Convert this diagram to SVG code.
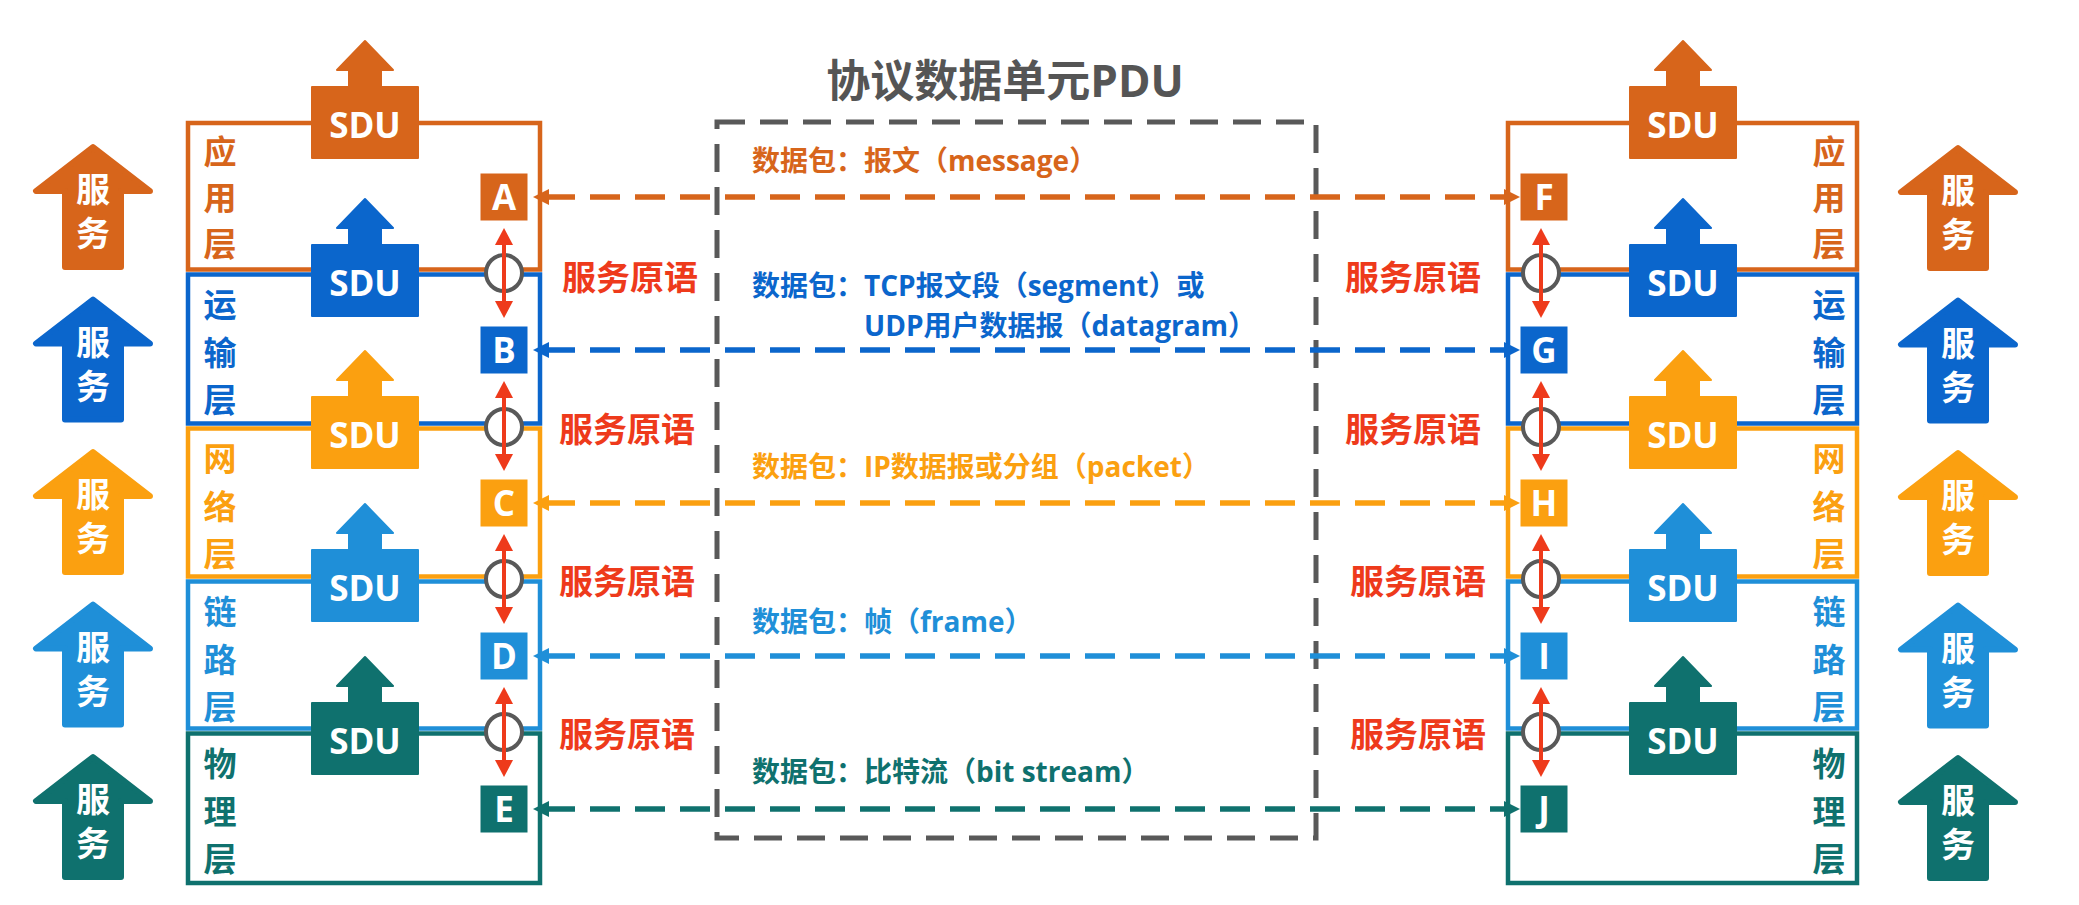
<svg xmlns="http://www.w3.org/2000/svg" xmlns:xlink="http://www.w3.org/1999/xlink" width="2079" height="905" viewBox="0 0 2079 905">
<style>
text{font-family:"Open Sans","Noto Sans CJK SC",sans-serif;font-weight:bold}
.lyr{fill:none;stroke-width:4.5}
.lab{font-size:33px;text-anchor:middle}
.sdu{font-size:35px;fill:#fff;text-anchor:middle}
.let{font-size:35px;fill:#fff;text-anchor:middle}
.svc{font-size:34px;fill:#fff;text-anchor:middle}
.prim{font-size:34px;fill:#EE3A1B}
.pkt{font-size:28px}
.dash{fill:none;stroke-width:5.5;stroke-dasharray:30 15}
.red{stroke:#EE3A1B;stroke-width:4;fill:none}
.ring{fill:#fff;stroke:#595959;stroke-width:4}
.c0{fill:#D7651B;stroke:#D7651B}
.c1{fill:#0B66CC;stroke:#0B66CC}
.c2{fill:#FBA010;stroke:#FBA010}
.c3{fill:#1F8FD8;stroke:#1F8FD8}
.c4{fill:#0F716E;stroke:#0F716E}
</style>
<defs>
<path id="svcArrow" d="M0,4 L-57,48 L-28,48 L-28,124 L28,124 L28,48 L57,48 Z" stroke-width="6" stroke-linejoin="round"/>
<path id="sduShape" d="M-53,1 L-16,1 L-16,-16 L-28,-16 L0,-45 L28,-16 L16,-16 L16,1 L53,1 L53,72 L-53,72 Z" stroke-width="2" stroke-linejoin="round"/>
<marker id="mRed" markerUnits="userSpaceOnUse" orient="auto-start-reverse" overflow="visible" markerWidth="1" markerHeight="1"><path d="M-3,-9 L14,0 L-3,9 Z" fill="#EE3A1B"/></marker>
<marker id="m0" markerUnits="userSpaceOnUse" orient="auto-start-reverse" overflow="visible" markerWidth="1" markerHeight="1"><path d="M-4,-8 L12,0 L-4,8 Z" fill="#D7651B"/></marker>
<marker id="m1" markerUnits="userSpaceOnUse" orient="auto-start-reverse" overflow="visible" markerWidth="1" markerHeight="1"><path d="M-4,-8 L12,0 L-4,8 Z" fill="#0B66CC"/></marker>
<marker id="m2" markerUnits="userSpaceOnUse" orient="auto-start-reverse" overflow="visible" markerWidth="1" markerHeight="1"><path d="M-4,-8 L12,0 L-4,8 Z" fill="#FBA010"/></marker>
<marker id="m3" markerUnits="userSpaceOnUse" orient="auto-start-reverse" overflow="visible" markerWidth="1" markerHeight="1"><path d="M-4,-8 L12,0 L-4,8 Z" fill="#1F8FD8"/></marker>
<marker id="m4" markerUnits="userSpaceOnUse" orient="auto-start-reverse" overflow="visible" markerWidth="1" markerHeight="1"><path d="M-4,-8 L12,0 L-4,8 Z" fill="#0F716E"/></marker>
</defs>
<rect width="2079" height="905" fill="#fff"/>

<g id="title"><text x="1005" y="97" font-size="44" fill="#555" text-anchor="middle">协议数据单元PDU</text></g>
<g id="pdu-box"><rect x="717" y="122" width="599" height="716" fill="none" stroke="#595959" stroke-width="5" stroke-dasharray="28 15"/></g>

<!-- left service arrows -->
<g id="svc-left-0"><use xlink:href="#svcArrow" x="93" y="143" class="c0"/><text class="svc" x="93" y="202">服</text><text class="svc" x="93" y="246">务</text></g>
<g id="svc-left-1"><use xlink:href="#svcArrow" x="93" y="295.5" class="c1"/><text class="svc" x="93" y="354.5">服</text><text class="svc" x="93" y="398.5">务</text></g>
<g id="svc-left-2"><use xlink:href="#svcArrow" x="93" y="448" class="c2"/><text class="svc" x="93" y="507">服</text><text class="svc" x="93" y="551">务</text></g>
<g id="svc-left-3"><use xlink:href="#svcArrow" x="93" y="600.5" class="c3"/><text class="svc" x="93" y="659.5">服</text><text class="svc" x="93" y="703.5">务</text></g>
<g id="svc-left-4"><use xlink:href="#svcArrow" x="93" y="753" class="c4"/><text class="svc" x="93" y="812">服</text><text class="svc" x="93" y="856">务</text></g>

<!-- right service arrows -->
<g id="svc-right-0"><use xlink:href="#svcArrow" x="1958" y="144" class="c0"/><text class="svc" x="1958" y="203">服</text><text class="svc" x="1958" y="247">务</text></g>
<g id="svc-right-1"><use xlink:href="#svcArrow" x="1958" y="296.5" class="c1"/><text class="svc" x="1958" y="355.5">服</text><text class="svc" x="1958" y="399.5">务</text></g>
<g id="svc-right-2"><use xlink:href="#svcArrow" x="1958" y="449" class="c2"/><text class="svc" x="1958" y="508">服</text><text class="svc" x="1958" y="552">务</text></g>
<g id="svc-right-3"><use xlink:href="#svcArrow" x="1958" y="601.5" class="c3"/><text class="svc" x="1958" y="660.5">服</text><text class="svc" x="1958" y="704.5">务</text></g>
<g id="svc-right-4"><use xlink:href="#svcArrow" x="1958" y="754" class="c4"/><text class="svc" x="1958" y="813">服</text><text class="svc" x="1958" y="857">务</text></g>

<!-- left stack -->
<g id="left-app">
<rect class="lyr" x="188" y="123" width="352" height="146.5" stroke="#D7651B"/>
<text class="lab" fill="#D7651B"><tspan x="220" y="163.5">应</tspan><tspan x="220" y="209.5">用</tspan><tspan x="220" y="255.5">层</tspan></text>
<use xlink:href="#sduShape" x="365" y="86" class="c0"/><text class="sdu" x="365" y="138">SDU</text>
<rect x="481" y="174" width="46" height="46" class="c0" stroke="none"/><text class="let" x="504" y="209.5">A</text>
</g>
<g id="left-transport">
<rect class="lyr" x="188" y="274.5" width="352" height="149" stroke="#0B66CC"/>
<text class="lab" fill="#0B66CC"><tspan x="220" y="316.5">运</tspan><tspan x="220" y="364.5">输</tspan><tspan x="220" y="411.5">层</tspan></text>
<use xlink:href="#sduShape" x="365" y="244" class="c1"/><text class="sdu" x="365" y="296">SDU</text>
<rect x="481" y="327" width="46" height="46" class="c1" stroke="none"/><text class="let" x="504" y="362.5">B</text>
</g>
<g id="left-network">
<rect class="lyr" x="188" y="428.5" width="352" height="148" stroke="#FBA010"/>
<text class="lab" fill="#FBA010"><tspan x="220" y="470.5">网</tspan><tspan x="220" y="518.5">络</tspan><tspan x="220" y="565.5">层</tspan></text>
<use xlink:href="#sduShape" x="365" y="396" class="c2"/><text class="sdu" x="365" y="448">SDU</text>
<rect x="481" y="480" width="46" height="46" class="c2" stroke="none"/><text class="let" x="504" y="515.5">C</text>
</g>
<g id="left-link">
<rect class="lyr" x="188" y="581.5" width="352" height="147" stroke="#1F8FD8"/>
<text class="lab" fill="#1F8FD8"><tspan x="220" y="623.5">链</tspan><tspan x="220" y="671.5">路</tspan><tspan x="220" y="718.5">层</tspan></text>
<use xlink:href="#sduShape" x="365" y="549" class="c3"/><text class="sdu" x="365" y="601">SDU</text>
<rect x="481" y="633" width="46" height="46" class="c3" stroke="none"/><text class="let" x="504" y="668.5">D</text>
</g>
<g id="left-physical">
<rect class="lyr" x="188" y="733.5" width="352" height="149.5" stroke="#0F716E"/>
<text class="lab" fill="#0F716E"><tspan x="220" y="775.5">物</tspan><tspan x="220" y="823.5">理</tspan><tspan x="220" y="870.5">层</tspan></text>
<use xlink:href="#sduShape" x="365" y="702" class="c4"/><text class="sdu" x="365" y="754">SDU</text>
<rect x="481" y="786" width="46" height="46" class="c4" stroke="none"/><text class="let" x="504" y="821.5">E</text>
</g>

<!-- right stack -->
<g id="right-app">
<rect class="lyr" x="1508" y="123" width="349" height="146.5" stroke="#D7651B"/>
<text class="lab" fill="#D7651B"><tspan x="1829" y="163.5">应</tspan><tspan x="1829" y="209.5">用</tspan><tspan x="1829" y="255.5">层</tspan></text>
<use xlink:href="#sduShape" x="1683" y="86" class="c0"/><text class="sdu" x="1683" y="138">SDU</text>
<rect x="1521" y="174" width="46" height="46" class="c0" stroke="none"/><text class="let" x="1544" y="209.5">F</text>
</g>
<g id="right-transport">
<rect class="lyr" x="1508" y="274.5" width="349" height="149" stroke="#0B66CC"/>
<text class="lab" fill="#0B66CC"><tspan x="1829" y="316.5">运</tspan><tspan x="1829" y="364.5">输</tspan><tspan x="1829" y="411.5">层</tspan></text>
<use xlink:href="#sduShape" x="1683" y="244" class="c1"/><text class="sdu" x="1683" y="296">SDU</text>
<rect x="1521" y="327" width="46" height="46" class="c1" stroke="none"/><text class="let" x="1544" y="362.5">G</text>
</g>
<g id="right-network">
<rect class="lyr" x="1508" y="428.5" width="349" height="148" stroke="#FBA010"/>
<text class="lab" fill="#FBA010"><tspan x="1829" y="470.5">网</tspan><tspan x="1829" y="518.5">络</tspan><tspan x="1829" y="565.5">层</tspan></text>
<use xlink:href="#sduShape" x="1683" y="396" class="c2"/><text class="sdu" x="1683" y="448">SDU</text>
<rect x="1521" y="480" width="46" height="46" class="c2" stroke="none"/><text class="let" x="1544" y="515.5">H</text>
</g>
<g id="right-link">
<rect class="lyr" x="1508" y="581.5" width="349" height="147" stroke="#1F8FD8"/>
<text class="lab" fill="#1F8FD8"><tspan x="1829" y="623.5">链</tspan><tspan x="1829" y="671.5">路</tspan><tspan x="1829" y="718.5">层</tspan></text>
<use xlink:href="#sduShape" x="1683" y="549" class="c3"/><text class="sdu" x="1683" y="601">SDU</text>
<rect x="1521" y="633" width="46" height="46" class="c3" stroke="none"/><text class="let" x="1544" y="668.5">I</text>
</g>
<g id="right-physical">
<rect class="lyr" x="1508" y="733.5" width="349" height="149.5" stroke="#0F716E"/>
<text class="lab" fill="#0F716E"><tspan x="1829" y="775.5">物</tspan><tspan x="1829" y="823.5">理</tspan><tspan x="1829" y="870.5">层</tspan></text>
<use xlink:href="#sduShape" x="1683" y="702" class="c4"/><text class="sdu" x="1683" y="754">SDU</text>
<rect x="1521" y="786" width="46" height="46" class="c4" stroke="none"/><text class="let" x="1544" y="821.5">J</text>
</g>

<!-- primitive labels -->
<g id="primitives">
<text class="prim" x="562" y="290">服务原语</text>
<text class="prim" x="559" y="442">服务原语</text>
<text class="prim" x="559" y="594">服务原语</text>
<text class="prim" x="559" y="747">服务原语</text>
<text class="prim" x="1345" y="290">服务原语</text>
<text class="prim" x="1345" y="442">服务原语</text>
<text class="prim" x="1350" y="594">服务原语</text>
<text class="prim" x="1350" y="747">服务原语</text>
</g>

<!-- packet labels -->
<g id="packet-labels">
<text class="pkt" x="752" y="171" fill="#D7651B">数据包：报文（message）</text>
<text class="pkt" x="752" y="296" fill="#0B66CC">数据包：TCP报文段（segment）或</text>
<text class="pkt" x="864" y="336" fill="#0B66CC">UDP用户数据报（datagram）</text>
<text class="pkt" x="752" y="477" fill="#FBA010">数据包：IP数据报或分组（packet）</text>
<text class="pkt" x="752" y="632" fill="#1F8FD8">数据包：帧（frame）</text>
<text class="pkt" x="752" y="782" fill="#0F716E">数据包：比特流（bit stream）</text>
</g>

<g id="connectors">
<path class="dash" d="M545,197 H1508" stroke="#D7651B" marker-start="url(#m0)" marker-end="url(#m0)"/>
<path class="dash" d="M545,350 H1508" stroke="#0B66CC" marker-start="url(#m1)" marker-end="url(#m1)"/>
<path class="dash" d="M545,503 H1508" stroke="#FBA010" marker-start="url(#m2)" marker-end="url(#m2)"/>
<path class="dash" d="M545,656 H1508" stroke="#1F8FD8" marker-start="url(#m3)" marker-end="url(#m3)"/>
<path class="dash" d="M545,809 H1508" stroke="#0F716E" marker-start="url(#m4)" marker-end="url(#m4)"/>

<circle class="ring" cx="504" cy="273" r="18"/>
<circle class="ring" cx="504" cy="427" r="18"/>
<circle class="ring" cx="504" cy="579" r="18"/>
<circle class="ring" cx="504" cy="732" r="18"/>
<circle class="ring" cx="1541" cy="273" r="18"/>
<circle class="ring" cx="1541" cy="427" r="18"/>
<circle class="ring" cx="1541" cy="579" r="18"/>
<circle class="ring" cx="1541" cy="732" r="18"/>

<path class="red" d="M504,242 V304" marker-start="url(#mRed)" marker-end="url(#mRed)"/>
<path class="red" d="M504,395 V457" marker-start="url(#mRed)" marker-end="url(#mRed)"/>
<path class="red" d="M504,548 V610" marker-start="url(#mRed)" marker-end="url(#mRed)"/>
<path class="red" d="M504,701 V763" marker-start="url(#mRed)" marker-end="url(#mRed)"/>
<path class="red" d="M1541,242 V304" marker-start="url(#mRed)" marker-end="url(#mRed)"/>
<path class="red" d="M1541,395 V457" marker-start="url(#mRed)" marker-end="url(#mRed)"/>
<path class="red" d="M1541,548 V610" marker-start="url(#mRed)" marker-end="url(#mRed)"/>
<path class="red" d="M1541,701 V763" marker-start="url(#mRed)" marker-end="url(#mRed)"/>
</g>
</svg>
